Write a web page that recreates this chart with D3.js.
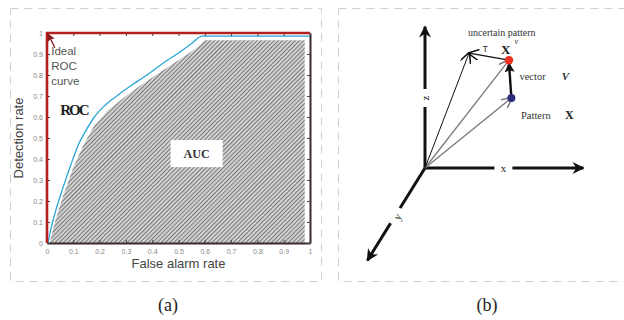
<!DOCTYPE html>
<html>
<head>
<meta charset="utf-8">
<script src="https://cdn.jsdelivr.net/npm/d3@7"></script>
<style>
  body { margin: 0; background: #fff; }
  svg { display: block; }
  .tick text { font-family: "Liberation Sans", Arial, sans-serif; font-size: 7px; fill: #888; }
</style>
</head>
<body>
<div id="chart"></div>
<script>
// ROC curve (a)
const fpr = [0, 0.01, 0.03, 0.06, 0.09, 0.12, 0.15, 0.18, 0.22, 0.27, 0.32, 0.38, 0.44, 0.5, 0.55, 0.59, 0.7, 0.85, 1];
const tpr = [0, 0.04, 0.14, 0.26, 0.37, 0.47, 0.54, 0.60, 0.655, 0.705, 0.75, 0.80, 0.855, 0.905, 0.95, 0.985, 0.985, 0.985, 0.985];
// edge of the hatched AUC region
const aucFpr = [0.01, 0.03, 0.06, 0.1, 0.14, 0.18, 0.23, 0.29, 0.35, 0.42, 0.5, 0.57, 0.6, 0.98, 0.98];
const aucTpr = [0, 0.1, 0.22, 0.36, 0.47, 0.56, 0.63, 0.69, 0.745, 0.805, 0.87, 0.93, 0.965, 0.965, 0];
const idealFpr = [0, 0, 1];
const idealTpr = [0, 1, 1];
const ticks = [0, 0.1, 0.2, 0.3, 0.4, 0.5, 0.6, 0.7, 0.8, 0.9, 1];

// vector diagram (b), projected units
const axisNames = ["x", "z", "y"];
const axisEnds = [[9.9, 0], [0, 10.1], [-3.6, -6.6]];
const patternX = [5.4, 5.0];
const patternXv = [5.25, 7.7];
const uncertain = [2.75, 8.2];

const W = 624, H = 320;
const svg = d3.select("#chart").append("svg").attr("width", W).attr("height", H);
const defs = svg.append("defs");

const hatch = defs.append("pattern")
  .attr("id", "hatch")
  .attr("patternUnits", "userSpaceOnUse")
  .attr("width", 3).attr("height", 3)
  .attr("patternTransform", "rotate(45)");
hatch.append("rect").attr("width", 3).attr("height", 3).attr("fill", "#d2d2d2");
hatch.append("line").attr("x1", 0).attr("y1", 0).attr("x2", 0).attr("y2", 3)
  .attr("stroke", "#616161").attr("stroke-width", 1.6);

function marker(id, d, fill, stroke, w, h, refX) {
  defs.append("marker")
    .attr("id", id)
    .attr("viewBox", "0 -5 10 10")
    .attr("refX", refX)
    .attr("markerWidth", w)
    .attr("markerHeight", h)
    .attr("markerUnits", "userSpaceOnUse")
    .attr("orient", "auto")
    .append("path")
    .attr("d", d)
    .attr("fill", fill)
    .attr("stroke", stroke)
    .attr("stroke-width", fill === "none" ? 1.4 : 0);
}
marker("axisArrow", "M0,-5L10,0L0,5L3,0Z", "#111", "none", 14, 12, 9);
marker("openGray", "M0,-5L10,0L0,5", "none", "#777", 11, 11, 9);
marker("openBlack", "M0,-5L10,0L0,5", "none", "#111", 11, 11, 9);
marker("filledBlack", "M0,-5L10,0L0,5L2,0Z", "#111", "none", 10, 10, 9);
marker("redArrow", "M0,-5L10,0L0,5L2,0Z", "#8b1a1a", "none", 8, 8, 9);

// dashed panel frames
svg.append("rect").attr("x", 10.5).attr("y", 8.5).attr("width", 311).attr("height", 273)
  .attr("fill", "none").attr("stroke", "#cfcfcf").attr("stroke-dasharray", "8,6");
svg.append("rect").attr("x", 338.5).attr("y", 8.5).attr("width", 290).attr("height", 273)
  .attr("fill", "none").attr("stroke", "#cfcfcf").attr("stroke-dasharray", "8,6");

// ---- panel (a)
const x = d3.scaleLinear().domain([0, 1]).range([47, 310]);
const y = d3.scaleLinear().domain([0, 1]).range([243, 33]);
const line = d3.line().x(d => x(d[0])).y(d => y(d[1]));
const smooth = d3.line().x(d => x(d[0])).y(d => y(d[1])).curve(d3.curveMonotoneX);

svg.append("path")
  .attr("d", line(d3.zip(aucFpr, aucTpr)) + "Z")
  .attr("fill", "url(#hatch)");

svg.append("path")
  .attr("d", smooth(d3.zip(fpr, tpr).map((p, i) => [p[0] + (i ? 0 : 0.004), p[1]])))
  .attr("fill", "none").attr("stroke", "#2aa6d6").attr("stroke-width", 1.3);

// AUC box
svg.append("rect").attr("x", x(0.47)).attr("y", y(0.49)).attr("width", 52).attr("height", 27).attr("fill", "#fff");
svg.append("text").attr("x", x(0.47) + 26).attr("y", y(0.49) + 18)
  .attr("text-anchor", "middle")
  .style("font-family", "'Liberation Serif', 'Times New Roman', serif")
  .style("font-weight", "bold").style("font-size", "12px").attr("fill", "#333")
  .text("AUC");

// frame axes
svg.append("g").attr("transform", `translate(0,${y(0)})`)
  .call(d3.axisBottom(x).tickValues(ticks).tickFormat(d3.format("~g")).tickSizeInner(-3).tickSizeOuter(0).tickPadding(6))
  .call(g => g.select(".domain").attr("stroke", "#3a2a2a").attr("stroke-width", 2))
  .call(g => g.selectAll(".tick line").attr("stroke", "#444"));
svg.append("g").attr("transform", `translate(${x(1)},0)`)
  .call(d3.axisRight(y).tickValues(ticks).tickSizeInner(-3).tickSizeOuter(0).tickFormat(""))
  .call(g => g.select(".domain").attr("stroke", "#3a2a2a").attr("stroke-width", 2))
  .call(g => g.selectAll(".tick line").attr("stroke", "#444"));
svg.append("g").attr("transform", `translate(0,${y(1)})`)
  .call(d3.axisTop(x).tickValues(ticks).tickSizeInner(-3).tickSizeOuter(0).tickFormat(""))
  .call(g => g.select(".domain").remove())
  .call(g => g.selectAll(".tick line").attr("stroke", "#444"));
svg.append("g").attr("transform", `translate(${x(0)},0)`)
  .call(d3.axisLeft(y).tickValues(ticks).tickFormat(d3.format("~g")).tickSizeInner(-3).tickSizeOuter(0).tickPadding(4))
  .call(g => g.select(".domain").remove())
  .call(g => g.selectAll(".tick line").attr("stroke", "#444"));

// ideal ROC curve (red)
svg.append("path")
  .attr("d", line(d3.zip(idealFpr, idealTpr)))
  .attr("fill", "none").attr("stroke", "#b3201d").attr("stroke-width", 2.6);

// annotation
svg.append("line")
  .attr("x1", x(0.03)).attr("y1", y(0.93))
  .attr("x2", x(0.004)).attr("y2", y(0.995))
  .attr("stroke", "#8b1a1a").attr("stroke-width", 1.3)
  .attr("marker-end", "url(#redArrow)");
const ideal = svg.append("text")
  .attr("x", x(0.016)).attr("y", y(0.895))
  .style("font-family", "'Liberation Sans', Arial, sans-serif")
  .style("font-size", "11.5px").attr("fill", "#555");
["Ideal", "ROC", "curve"].forEach((t, i) =>
  ideal.append("tspan").attr("x", x(0.016)).attr("dy", i ? 15 : 0).text(t));

svg.append("text").attr("x", x(0.05)).attr("y", y(0.61))
  .style("font-family", "'Liberation Serif', 'Times New Roman', serif")
  .style("font-weight", "bold").style("font-size", "15px")
  .style("letter-spacing", "-2px").attr("fill", "#222")
  .text("ROC");

svg.append("text").attr("x", x(0.5)).attr("y", 268)
  .attr("text-anchor", "middle")
  .style("font-family", "'Liberation Sans', Arial, sans-serif")
  .style("font-size", "13px").attr("fill", "#444")
  .text("False alarm rate");
svg.append("text")
  .attr("transform", `translate(23,${y(0.5)}) rotate(-90)`)
  .attr("text-anchor", "middle")
  .style("font-family", "'Liberation Sans', Arial, sans-serif")
  .style("font-size", "13px").attr("fill", "#444")
  .text("Detection rate");

svg.append("text").attr("x", 168).attr("y", 311)
  .attr("text-anchor", "middle")
  .style("font-family", "'Liberation Serif', 'Times New Roman', serif")
  .style("font-size", "18px").attr("fill", "#222")
  .text("(a)");

// ---- panel (b)
const u = d3.scaleLinear().domain([0, 10]).range([425, 585]);
const v = d3.scaleLinear().domain([0, 10]).range([168, 28]);
const serif = "'Liberation Serif', 'Times New Roman', serif";

const b = svg.append("g");
axisEnds.forEach((e, i) => {
  b.append("line")
    .attr("x1", u(0)).attr("y1", v(0))
    .attr("x2", u(e[0])).attr("y2", v(e[1]))
    .attr("stroke", "#111").attr("stroke-width", 3)
    .attr("marker-end", "url(#axisArrow)");
});

// axis labels sitting in gaps of the axis lines
const labelAt = [[4.9, 0], [0, 5.0], [-1.7, -3.5]];
const labelRot = [0, -90, -62];
axisNames.forEach((n, i) => {
  const g = b.append("g")
    .attr("transform", `translate(${u(labelAt[i][0])},${v(labelAt[i][1])}) rotate(${labelRot[i]})`);
  g.append("rect").attr("x", -9).attr("y", -5).attr("width", 18).attr("height", 10).attr("fill", "#fff");
  g.append("text").attr("y", 3.5).attr("text-anchor", "middle")
    .style("font-family", serif).style("font-size", "11px").attr("fill", "#222")
    .text(n);
});

// vectors from the origin
[[patternX, "#7a7a7a", "openGray", 1.3], [patternXv, "#7a7a7a", "openGray", 1.3], [uncertain, "#111", "openBlack", 1]]
  .forEach(([p, c, m, w]) => {
    b.append("line")
      .attr("x1", u(0)).attr("y1", v(0))
      .attr("x2", u(p[0])).attr("y2", v(p[1]))
      .attr("stroke", c).attr("stroke-width", w)
      .attr("marker-end", `url(#${m})`);
  });

// T: from X^v to the uncertain pattern
b.append("line")
  .attr("x1", u(patternXv[0])).attr("y1", v(patternXv[1]))
  .attr("x2", u(uncertain[0])).attr("y2", v(uncertain[1]))
  .attr("stroke", "#111").attr("stroke-width", 1.2)
  .attr("marker-end", "url(#openBlack)");

// vector v: from X to X^v
b.append("line")
  .attr("x1", u(patternX[0])).attr("y1", v(patternX[1]))
  .attr("x2", u(patternXv[0])).attr("y2", v(patternXv[1]) + 3)
  .attr("stroke", "#111").attr("stroke-width", 2.4)
  .attr("marker-end", "url(#filledBlack)");

b.append("circle").attr("cx", u(patternXv[0])).attr("cy", v(patternXv[1])).attr("r", 4.2).attr("fill", "#f0301e");
b.append("circle").attr("cx", u(patternX[0])).attr("cy", v(patternX[1])).attr("r", 4).attr("fill", "#2a2a78");

function label(t, px, py, size, opts = {}) {
  return b.append("text").attr("x", u(px)).attr("y", v(py))
    .attr("text-anchor", opts.anchor || "start")
    .style("font-family", opts.family || serif)
    .style("font-size", size + "px")
    .style("font-weight", opts.weight || "normal")
    .style("font-style", opts.italic ? "italic" : "normal")
    .attr("fill", opts.fill || "#333")
    .text(t);
}
label("uncertain pattern", 4.8, 9.45, 10, { anchor: "middle" });
label("T", 3.6, 8.3, 9, { family: "'Liberation Sans', Arial, sans-serif" });
label("X", 4.75, 8.15, 13, { weight: "bold", fill: "#222" });
label("v", 5.6, 8.85, 8, { italic: true });
label("vector", 5.9, 6.3, 10.5);
label("V", 8.55, 6.3, 11, { italic: true, weight: "bold", fill: "#333" });
label("Pattern", 6.0, 3.5, 10.5);
label("X", 8.75, 3.5, 12, { weight: "bold", fill: "#222" });

svg.append("text").attr("x", 487).attr("y", 311)
  .attr("text-anchor", "middle")
  .style("font-family", serif)
  .style("font-size", "18px").attr("fill", "#222")
  .text("(b)");
</script>
</body>
</html>
